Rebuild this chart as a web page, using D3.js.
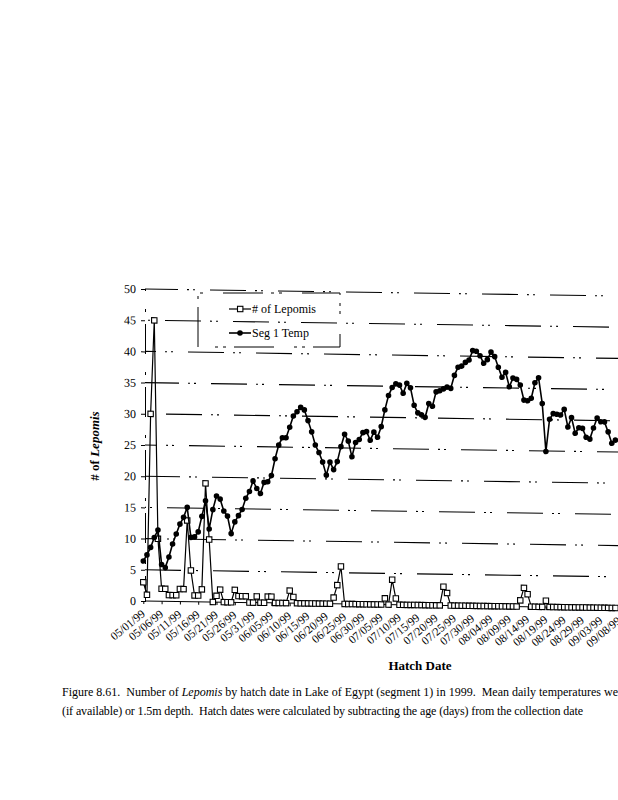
<!DOCTYPE html>
<html>
<head>
<meta charset="utf-8">
<script src="https://cdnjs.cloudflare.com/ajax/libs/d3/7.8.5/d3.min.js"></script>
<style>
body { margin: 0; background: #fff; }
svg { display: block; }
text { font-family: "Liberation Serif", "Times New Roman", serif; fill: #000; }
.cap { white-space: pre; }
</style>
</head>
<body>
<svg width="618" height="800"></svg>
<script>
// first hatch date, one value per day after it
var firstDay = "05/01/99";

var tickLabels = ["05/01/99","05/06/99","05/11/99","05/16/99","05/21/99","05/26/99","05/31/99",
  "06/05/99","06/10/99","06/15/99","06/20/99","06/25/99","06/30/99","07/05/99","07/10/99",
  "07/15/99","07/20/99","07/25/99","07/30/99","08/04/99","08/09/99","08/14/99","08/19/99",
  "08/24/99","08/29/99","09/03/99","09/08/99"];

var yTicks = [0, 5, 10, 15, 20, 25, 30, 35, 40, 45, 50];

// # of Lepomis per hatch date
var lepomis = [3,1,30,45,10,2,2,1,1,1,
  2,2,13,5,1,1,2,19,10,0,
  1,2,0,0,0,2,1,1,1,0,
  0,1,0,0,1,1,0,0,0,0,
  2,1,0,0,0,0,0,0,0,0,
  0,0,1,3,6,0,0,0,0,0,
  0,0,0,0,0,0,1,0,4,1,
  0,0,0,0,0,0,0,0,0,0,
  0,0,3,2,0,0,0,0,0,0,
  0,0,0,0,0,0,0,0,0,0,
  0,0,0,1,3,2,0,0,0,0,
  1,0,0,0,0,0,0,0,0,0,
  0,0,0,0,0,0,0,0,0,0];

// Seg 1 Temp, mean daily
var temp = [6.4,7.4,8.6,10.2,11.4,5.9,5.4,7.1,9.2,10.8,
  12.4,13.5,15.1,10.3,10.4,11.2,13.7,16.2,11.7,14.8,
  17.0,16.5,14.6,13.8,11.0,12.9,13.9,14.9,16.7,17.8,
  19.5,18.3,17.5,19.3,19.4,20.4,23.1,25.3,26.5,26.5,
  28.2,30.0,30.7,31.4,31.0,29.3,27.5,25.4,24.2,22.7,
  20.6,22.7,21.5,22.8,25.2,27.2,26.1,23.6,25.9,26.4,
  27.5,27.7,26.3,27.6,26.8,28.5,31.2,33.5,34.8,35.4,
  35.2,33.9,35.5,34.8,32.0,30.8,30.5,30.1,32.3,31.9,
  34.2,34.4,34.7,35.0,34.8,36.9,38.2,38.4,39.0,39.4,
  40.9,40.8,40.1,38.9,39.5,40.7,40.0,38.3,36.7,37.5,
  35.2,36.6,36.4,35.5,33.1,33.0,33.4,35.9,36.7,32.6,
  24.9,30.1,31.0,30.9,30.8,31.7,28.9,30.4,27.9,28.8,
  28.7,27.3,27.0,28.8,30.4,29.8,29.8,28.2,26.4,26.9];

var parse = d3.timeParse("%m/%d/%y");
var start = parse(firstDay);

var points = lepomis.map(function(n, i) {
  return { date: d3.timeDay.offset(start, i), fish: n, temp: temp[i] };
});

var tickDates = tickLabels.map(function(t) { return parse(t); });

var x0 = 143.3, yBottom = 601, yTop = 289;

var xScale = d3.scaleTime()
  .domain([start, tickDates[tickDates.length - 1]])
  .range([x0, x0 + 3.66 * 130]);

var yScale = d3.scaleLinear()
  .domain([0, 50])
  .range([yBottom, yTop]);

var svg = d3.select("svg");

// the scanned page is a little crooked, so the plot leans down to the right
var plot = svg.append("g")
  .attr("transform", "translate(145,601) skewY(0.85) translate(-145,-601)");

// broken gridlines
plot.append("g")
  .selectAll("line")
  .data(yTicks.slice(1))
  .enter()
  .append("line")
  .attr("x1", 145)
  .attr("x2", 640)
  .attr("y1", function(d) { return yScale(d); })
  .attr("y2", function(d) { return yScale(d); })
  .attr("stroke", "#000")
  .attr("stroke-width", 1.1)
  .attr("stroke-dasharray", "36,9,2,4,2,15")
  .attr("stroke-dashoffset", function(d, i) { return (i * 23) % 68; });

// y axis
var yAxis = d3.axisLeft(yScale).tickValues(yTicks).tickSize(4).tickPadding(5);
var yG = plot.append("g").attr("transform", "translate(145,0)").call(yAxis);
yG.select(".domain").attr("stroke-dasharray", "30,12,3,18");
yG.selectAll("text").style("font-size", "12px").style("font-family", "Liberation Serif");

// x axis
var xAxis = d3.axisBottom(xScale).tickValues(tickDates).tickSize(3).tickFormat(function(d, i) { return tickLabels[i]; });
var xG = plot.append("g").attr("transform", "translate(0," + yBottom + ")").call(xAxis);
xG.select(".domain").attr("d", "M145,0H640");
xG.selectAll("text")
  .style("font-size", "11.5px")
  .style("font-family", "Liberation Serif")
  .attr("text-anchor", "end")
  .attr("dy", 0)
  .attr("y", 0)
  .attr("transform", "translate(2,14) rotate(-40)");

// # of Lepomis
var fishLine = d3.line()
  .x(function(p) { return xScale(p.date); })
  .y(function(p) { return yScale(p.fish); });

plot.append("path")
  .datum(points)
  .attr("d", fishLine)
  .attr("fill", "none")
  .attr("stroke", "#000")
  .attr("stroke-width", 1.2);

plot.append("g")
  .selectAll("rect")
  .data(points)
  .enter()
  .append("rect")
  .attr("x", function(p) { return xScale(p.date) - 2.7; })
  .attr("y", function(p) { return yScale(p.fish) - 2.7; })
  .attr("width", 5.4)
  .attr("height", 5.4)
  .attr("fill", "#fff")
  .attr("stroke", "#000")
  .attr("stroke-width", 1.1);

// Seg 1 Temp
var tempLine = d3.line()
  .x(function(p) { return xScale(p.date); })
  .y(function(p) { return yScale(p.temp); });

plot.append("path")
  .datum(points)
  .attr("d", tempLine)
  .attr("fill", "none")
  .attr("stroke", "#000")
  .attr("stroke-width", 1.6);

plot.append("g")
  .selectAll("circle")
  .data(points)
  .enter()
  .append("circle")
  .attr("cx", function(p) { return xScale(p.date); })
  .attr("cy", function(p) { return yScale(p.temp); })
  .attr("r", 2.8)
  .attr("fill", "#000");

// legend
var legend = svg.append("g");
legend.append("path")
  .attr("d", "M198,347V293H340V347H198")
  .attr("fill", "none")
  .attr("stroke", "#000")
  .attr("stroke-dasharray", "40,8,3,5,3,20");
legend.append("line").attr("x1", 229).attr("x2", 251).attr("y1", 309).attr("y2", 309)
  .attr("stroke", "#000").attr("stroke-width", 1.2);
legend.append("rect").attr("x", 237.5).attr("y", 306.3).attr("width", 5.4).attr("height", 5.4)
  .attr("fill", "#fff").attr("stroke", "#000").attr("stroke-width", 1.1);
legend.append("text").attr("x", 252).attr("y", 313).style("font-size", "12px").text("# of Lepomis");
legend.append("line").attr("x1", 229).attr("x2", 251).attr("y1", 333).attr("y2", 333)
  .attr("stroke", "#000").attr("stroke-width", 1.6);
legend.append("circle").attr("cx", 240).attr("cy", 333).attr("r", 2.8).attr("fill", "#000");
legend.append("text").attr("x", 252).attr("y", 337).style("font-size", "12px").text("Seg 1 Temp");

// axis titles
var yTitle = svg.append("text")
  .attr("transform", "translate(99,446) rotate(-90)")
  .attr("text-anchor", "middle")
  .style("font-size", "13px")
  .style("font-weight", "bold");
yTitle.append("tspan").text("# of ");
yTitle.append("tspan").style("font-style", "italic").text("Lepomis");

svg.append("text")
  .attr("x", 420)
  .attr("y", 670)
  .attr("text-anchor", "middle")
  .style("font-size", "13px")
  .style("font-weight", "bold")
  .text("Hatch Date");

// caption
var cap1 = svg.append("text").attr("class", "cap").attr("x", 62).attr("y", 696)
  .attr("textLength", 556).attr("lengthAdjust", "spacing").style("font-size", "12px");
cap1.append("tspan").text("Figure 8.61.  Number of ");
cap1.append("tspan").style("font-style", "italic").text("Lepomis");
cap1.append("tspan").text(" by hatch date in Lake of Egypt (segment 1) in 1999.  Mean daily temperatures we");

svg.append("text").attr("class", "cap").attr("x", 62).attr("y", 715)
  .attr("textLength", 521).attr("lengthAdjust", "spacing").style("font-size", "12px")
  .text("(if available) or 1.5m depth.  Hatch dates were calculated by subtracting the age (days) from the collection date");
</script>
</body>
</html>
